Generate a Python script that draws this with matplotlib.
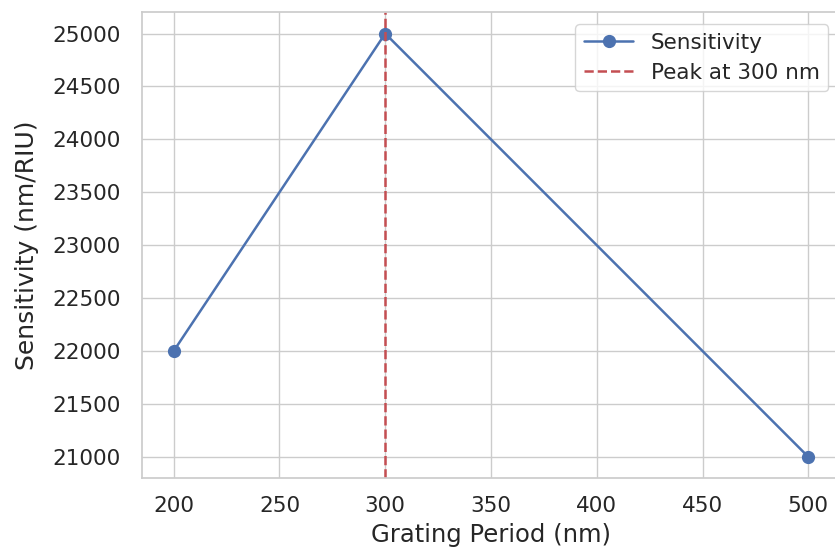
import matplotlib
matplotlib.use("Agg")
import matplotlib.pyplot as plt
import seaborn as sns

sns.set_theme(style="whitegrid")
plt.rcParams['font.family'] = ['DejaVu Sans']

# data
grating_period = [200, 300, 500]
sensitivity = [22000, 25000, 21000]
peak_period = 300

fig = plt.figure(figsize=(8.35, 5.51), dpi=100)
ax = fig.add_axes([0.170, 0.1325, 0.836, 0.845])

ax.plot(grating_period, sensitivity, marker='o', color='#4C72B0',
        linewidth=1.8, markersize=8.5, label='Sensitivity')
ax.axvline(peak_period, color='#C44E52', linestyle='--', linewidth=1.8,
           label='Peak at %d nm' % peak_period)

ax.set_xlabel('Grating Period (nm)', fontsize=17.5, labelpad=5)
ax.set_ylabel('Sensitivity (nm/RIU)', fontsize=18, labelpad=9)
ax.tick_params(axis='y', labelsize=15.5, pad=9.5)
ax.tick_params(axis='x', labelsize=15.5, pad=7)
ax.legend(loc='upper right', fontsize=15.5, borderaxespad=0.55,
          labelspacing=0.45, handlelength=2.3)

fig.savefig('out.png', dpi=100)
